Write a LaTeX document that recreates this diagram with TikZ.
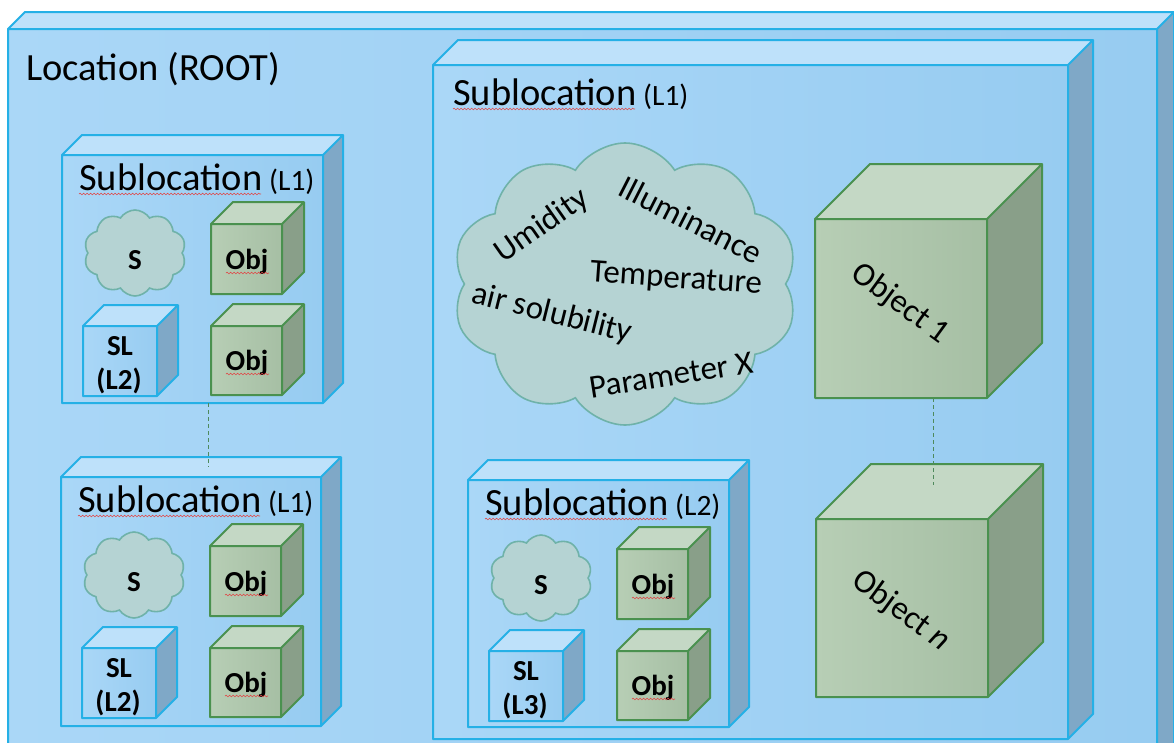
\documentclass[tikz,border=0pt]{standalone}
\usepackage{fontspec}
\setmainfont{Carlito}
\usetikzlibrary{shapes.symbols,decorations.pathmorphing}

\definecolor{bfrontc}{HTML}{AAD7F7}
\definecolor{bfronttwoc}{HTML}{97CCF1}
\definecolor{btopc}{HTML}{BEE1FA}
\definecolor{bsidec}{HTML}{7FA8C7}
\definecolor{blinec}{HTML}{25B0E6}
\definecolor{gfrontc}{HTML}{B7CEB5}
\definecolor{gfronttwoc}{HTML}{A6BFA4}
\definecolor{gtopc}{HTML}{C4D8C5}
\definecolor{gsidec}{HTML}{899F89}
\definecolor{glinec}{HTML}{4A914F}
\definecolor{cfillc}{HTML}{B5D3D3}
\definecolor{clinec}{HTML}{6FB2A9}
\definecolor{dashc}{HTML}{4F8A5C}
\definecolor{squigc}{HTML}{E04848}

\tikzset{
  b top/.style={fill=btopc},
  b side/.style={fill=bsidec},
  b front/.style={left color=bfrontc, right color=bfronttwoc},
  b line/.style={draw=blinec, line width=2pt, line join=round},
  g top/.style={fill=gtopc},
  g side/.style={fill=gsidec},
  g front/.style={left color=gfrontc, right color=gfronttwoc},
  g line/.style={draw=glinec, line width=2pt, line join=round},
  bigtitle/.style={inner sep=0pt, font=\fontsize{38.5}{46}\selectfont},
  lbl/.style={inner sep=0pt, font=\fontsize{29}{34}\selectfont\bfseries},
  cloudtxt/.style={inner sep=0pt, font=\fontsize{33}{38}\selectfont},
  objtxt/.style={inner sep=0pt, font=\fontsize{33}{38}\selectfont},
  cloudbox/.style={cloud, cloud ignores aspect, draw=clinec, line width=1.6pt, fill=cfillc, inner sep=0pt},
  squig/.style={draw=squigc, line width=0.6pt, decorate, decoration={snake, amplitude=0.8pt, segment length=3.5pt}},
  dashline/.style={draw=dashc, line width=0.9pt, dash pattern=on 4pt off 3pt},
}

% name, x1, y1, x2, y2, depth, kind
\newcommand{\mycube}[7]{%
  \path[#7 top] (#2,#3) -- (#2+#6,#3-#6) -- (#4+#6,#3-#6) -- (#4,#3) -- cycle;
  \path[#7 side] (#4,#3) -- (#4+#6,#3-#6) -- (#4+#6,#5-#6) -- (#4,#5) -- cycle;
  \path[#7 front] (#2,#3) rectangle (#4,#5);
  \draw[#7 line] (#2,#3) -- (#2+#6,#3-#6) -- (#4+#6,#3-#6) -- (#4+#6,#5-#6) -- (#4,#5) -- (#2,#5) -- cycle
     (#2,#3) -- (#4,#3) -- (#4+#6,#3-#6) (#4,#3) -- (#4,#5);
  \coordinate (#1) at ({(#2+#4)/2},{(#3+#5)/2});
}

% name, X, Y, W, H, level, SL level
\newcommand{\subbox}[7]{%
  \mycube{#1}{#2}{#3}{#2+#4}{#3+#5}{20}{b}
  \node[bigtitle, anchor=base west] (#1-t) at (#2+17,#3+35) {Sublocation{\fontsize{29.5}{34}\selectfont\ (L#6)}};
  \draw[squig] (#2+17,#3+39) -- (#2+199,#3+39);
  \node[cloudbox, cloud puffs=10, cloud puff arc=115, minimum width=102pt, minimum height=86pt] (#1-c) at (#2+73,#3+98) {};
  \node[lbl, anchor=base] (#1-s) at (#2+73,#3+114) {S};
  \mycube{#1-oa}{#2+149}{#3+69}{#2+220}{#3+139}{22}{g}
  \node[lbl, anchor=base] (#1-oat) at (#2+185,#3+114) {Obj};
  \draw[squig] (#2+164,#3+118) -- (#2+207,#3+118);
  \mycube{#1-ob}{#2+149}{#3+171}{#2+220}{#3+240}{22}{g}
  \node[lbl, anchor=base] (#1-obt) at (#2+185,#3+215) {Obj};
  \draw[squig] (#2+164,#3+219) -- (#2+207,#3+219);
  \mycube{#1-sl}{#2+21}{#3+171}{#2+95}{#3+241}{21}{b}
  \node[lbl, anchor=base] (#1-slt) at (#2+58,#3+200) {SL};
  \node[lbl, anchor=base] (#1-sll) at (#2+57,#3+234) {(L#7)};
}

\begin{document}
\begin{tikzpicture}[x=1pt, y=-1pt]
\useasboundingbox (0,0) rectangle (1174,742);
\clip (0,0) rectangle (1174,742);
\fill[white] (0,0) rectangle (1174,742);

% root location
\mycube{root}{8}{29}{1157}{762}{17}{b}
\node[bigtitle, anchor=base west] (roott) at (26,80) {Location (ROOT)};

% big sublocation L1
\mycube{sub}{433}{65}{1068}{739}{25}{b}
\node[bigtitle, anchor=base west] (subt) at (453,105) {Sublocation{\fontsize{29.5}{34}\selectfont\ (L1)}};
\draw[squig] (453,109) -- (635,109);

% sensor cloud
\node[cloudbox, cloud puffs=10, cloud puff arc=115, minimum width=346pt, minimum height=282pt] (bigcloud) at (625,284) {};
\node[cloudtxt, rotate=35] (umid) at (542,226) {Umidity};
\node[cloudtxt, rotate=-27] (illum) at (691,220) {Illuminance};
\node[cloudtxt, rotate=-4] (temp) at (676,280) {Temperature};
\node[cloudtxt, rotate=-14] (airs) at (552,314) {air solubility};
\node[cloudtxt, rotate=9] (parx) at (671,375) {Parameter X};

% objects
\mycube{obja}{815}{219}{987}{398}{55}{g}
\node[objtxt, rotate=-36] (objat) at (900,304) {Object 1};
\mycube{objn}{816}{519}{988}{697}{55}{g}
\node[objtxt, rotate=-36] (objnt) at (901,611) {Object \textit{n}};
\coordinate (oda) at (933,398);
\coordinate (odb) at (933,485);
\draw[dashline] (oda) -- (odb);

% small sublocations
\subbox{sla}{62}{155}{261}{248}{1}{2}
\subbox{slb}{61}{477}{260}{249}{1}{2}
\subbox{slc}{468}{480}{261}{247}{2}{3}

\coordinate (lda) at (208,403);
\coordinate (ldb) at (208,467);
\draw[dashline] (lda) -- (ldb);
\end{tikzpicture}
\end{document}
